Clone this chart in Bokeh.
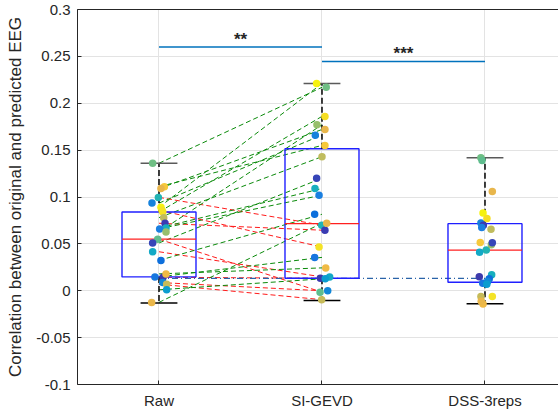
from bokeh.plotting import figure
from bokeh.models import FixedTicker, LinearAxis, Range1d, CustomJSTickFormatter
from bokeh.embed import file_html
from bokeh.resources import INLINE
from bokeh.core.properties import value

categories = ["Raw", "SI-GEVD", "DSS-3reps"]
cat_pos = [1, 2, 3]

# per-subject correlations
raw = [0.136, 0.111, 0.109, 0.0996, 0.0935, 0.089, 0.084, 0.078, 0.072, 0.067, 0.066, 0.0628,
       0.055, 0.051, 0.0416, 0.0324, 0.0148, 0.0144, 0.018, 0.0088, 0.007, 0.001, -0.0124, 0.086]
si = [0.217, 0.155, 0.172, 0.070, 0.166, 0.221, 0.186, 0.143, 0.0646, 0.109, 0.102, 0.177,
      -0.0015, 0.120, 0.0148, 0.0816, 0.0356, 0.0133, 0.0244, 0.0, -0.0095, 0.0127, 0.072, 0.0466]
dss = [0.142, 0.0515, 0.106, 0.0434, 0.0723, 0.083, 0.077, 0.0657, 0.070, 0.017, 0.0674, 0.049,
       0.139, 0.0512, 0.041, 0.0127, 0.008, 0.015, -0.014, 0.010, -0.006, 0.007, -0.0113, -0.006]

# horizontal jitter of the dots (category units)
raw_jit = [-0.039, 0.033, 0.012, -0.004, -0.043, 0.012, 0.023, 0.029, 0.037, 0.043, 0.004, 0.043,
           -0.008, -0.039, -0.039, 0.012, -0.025, 0.025, 0.043, 0.023, 0.047, 0.047, -0.045, 0.018]
si_jit = [0.026, 0.018, 0.018, -0.002, -0.041, -0.033, 0.018, 0.0, 0.018, -0.043, -0.018, -0.031,
          -0.012, -0.033, 0.047, -0.045, -0.045, -0.010, 0.023, 0.035, -0.002, 0.020, 0.029, -0.018]
dss_jit = [-0.025, -0.029, 0.045, 0.008, -0.025, -0.012, 0.012, 0.037, -0.010, 0.041, -0.020, 0.039,
           -0.018, 0.045, -0.033, 0.026, -0.014, -0.035, -0.012, 0.016, -0.025, 0.011, -0.023, 0.045]

subj_colors = ["#6fbf84", "#f7c93a", "#e8b64c", "#22b3b3", "#1682dc", "#f6f20f", "#f6de22", "#c0bc5e",
               "#3a3bb2", "#17afbe", "#1a7fe0", "#97bf6c", "#5fbd8e", "#3645b8", "#13a9c6", "#0d6fdc",
               "#1877df", "#3d3aac", "#f0ba45", "#1187d8", "#c6bb5a", "#0b9dcf", "#eab74a", "#f4e326"]

# box statistics
q1 = [0.0148, 0.0133, 0.0091]
med = [0.055, 0.0716, 0.0434]
q3 = [0.084, 0.1515, 0.0716]
whisk_lo = [-0.013, -0.0103, -0.0138]
whisk_hi = [0.136, 0.221, 0.142]

# significance annotations
sig_pairs = [(1, 2), (2, 3)]
sig_levels = [0.26, 0.2445]
sig_labels = ["**", "***"]
ref_level = 0.0133

y_ticks = [-0.1, -0.05, 0, 0.05, 0.1, 0.15, 0.2, 0.25, 0.3]

p = figure(width=558, height=413, output_backend="svg", toolbar_location=None,
           x_range=Range1d(0.5, 3.451), y_range=Range1d(-0.1, 0.3),
           min_border_left=77, min_border_right=0, min_border_top=9, min_border_bottom=29)
p.outline_line_color = None
p.background_fill_color = "white"
p.border_fill_color = "white"

font = "Liberation Sans"
axcol = "#262626"

p.xaxis.ticker = FixedTicker(ticks=cat_pos)
p.xaxis.major_label_overrides = {c: l for c, l in zip(cat_pos, categories)}
p.yaxis.ticker = FixedTicker(ticks=y_ticks)
p.yaxis.formatter = CustomJSTickFormatter(code="return (Math.round(tick*100)/100).toString();")
for ax in (p.xaxis, p.yaxis):
    ax.major_tick_in = 4
    ax.major_tick_out = 0
    ax.minor_tick_line_color = None
    ax.axis_line_color = axcol
    ax.major_tick_line_color = axcol
    ax.major_label_text_font = font
    ax.major_label_text_font_size = "15px"
    ax.major_label_text_color = axcol
p.xaxis.major_label_standoff = 7
p.yaxis.major_label_standoff = 7
p.yaxis.axis_label = "Correlation between original and predicted EEG"
p.yaxis.axis_label_text_font = font
p.yaxis.axis_label_text_font_size = "17px"
p.yaxis.axis_label_text_font_style = "normal"
p.yaxis.axis_label_text_color = axcol
p.yaxis.axis_label_standoff = 8

top_axis = LinearAxis(ticker=FixedTicker(ticks=[]), axis_line_color=axcol,
                      major_tick_line_color=None, minor_tick_line_color=None,
                      major_label_text_font_size="0px")
p.add_layout(top_axis, "above")

p.xgrid.ticker = FixedTicker(ticks=cat_pos)
p.ygrid.ticker = FixedTicker(ticks=y_ticks)
p.grid.grid_line_color = "#e3e3e3"
p.grid.grid_line_width = 1

# paired lines Raw -> SI-GEVD
n = len(raw)
line_cols = ["#0a8a0a" if s >= r else "#ff1a1a" for r, s in zip(raw, si)]
p.segment(x0=[cat_pos[0]] * n, y0=raw, x1=[cat_pos[1]] * n, y1=si,
          line_color=line_cols, line_width=1, line_dash="5 3")

# reference dash-dot line
p.line(x=[cat_pos[0], cat_pos[2]], y=[ref_level, ref_level], line_color="#2a63a8",
       line_width=1.2, line_dash="6 3 1 3")

# boxes
hw = 0.227
capw = 0.113
p.quad(left=[c - hw for c in cat_pos], right=[c + hw for c in cat_pos], bottom=q1, top=q3,
       fill_color=None, line_color="#1f1fff", line_width=1.4)
p.segment(x0=[c - hw for c in cat_pos], x1=[c + hw for c in cat_pos], y0=med, y1=med,
          line_color="#ff2020", line_width=1.2)
p.segment(x0=cat_pos, x1=cat_pos, y0=q3, y1=whisk_hi, line_color="black", line_width=1.5, line_dash="6 3")
p.segment(x0=cat_pos, x1=cat_pos, y0=q1, y1=whisk_lo, line_color="black", line_width=1.5, line_dash="6 3")
p.segment(x0=[c - capw for c in cat_pos], x1=[c + capw for c in cat_pos], y0=whisk_hi, y1=whisk_hi,
          line_color="#5a5a5a", line_width=1.5)
p.segment(x0=[c - capw for c in cat_pos], x1=[c + capw for c in cat_pos], y0=whisk_lo, y1=whisk_lo,
          line_color="black", line_width=1.5)

# dots
for c, vals, jit in zip(cat_pos, [raw, si, dss], [raw_jit, si_jit, dss_jit]):
    p.scatter(x=[c + j for j in jit], y=vals, size=7.5, fill_color=subj_colors,
              line_color=subj_colors, line_width=0)

# significance
for (a, b), lvl, lab in zip(sig_pairs, sig_levels, sig_labels):
    p.line(x=[a, b], y=[lvl, lvl], line_color="#0072bd", line_width=1.5)
p.text(x=[(a + b) / 2 for a, b in sig_pairs], y=[l - 0.002 for l in sig_levels], text=sig_labels,
       text_align="center", text_baseline="bottom", text_font=value(font),
       text_font_size="17px", text_font_style="bold", text_color="#262626")

open("out.html", "w").write(file_html(p, INLINE))
